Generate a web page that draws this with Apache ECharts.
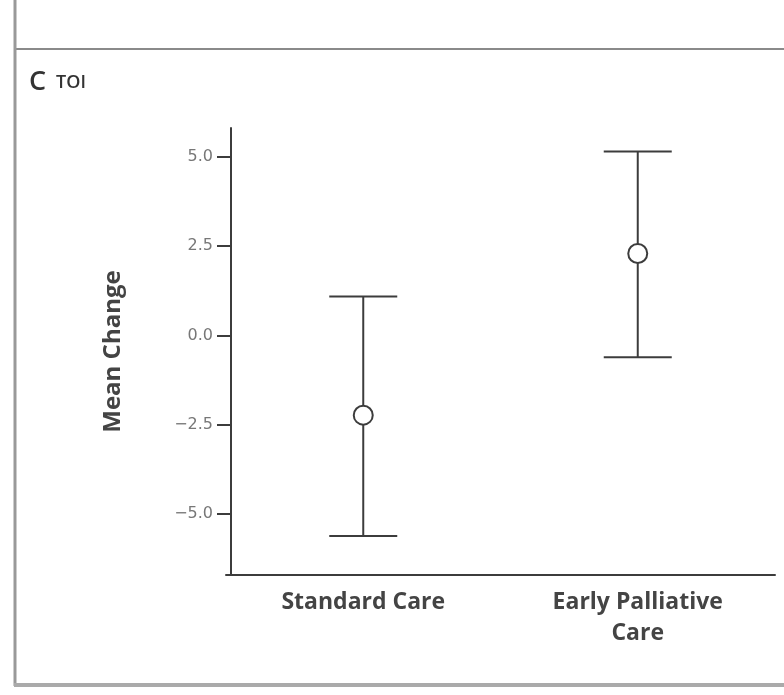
<!DOCTYPE html>
<html>
<head>
<meta charset="utf-8">
<script src="https://cdn.jsdelivr.net/npm/echarts@6/dist/echarts.min.js"></script>
<style>
html,body{margin:0;padding:0;background:#fff;}
#chart{width:784px;height:695px;}
</style>
</head>
<body>
<div id="chart"></div>
<script>
const categories = ['Standard Care', 'Early Palliative\nCare'];
const means = [-2.23, 2.29];
const lower = [-5.61, -0.61];
const upper = [1.09, 5.14];
const yTicks = [-5, -2.5, 0, 2.5, 5];

const chart = echarts.init(document.getElementById('chart'));
const ink = '#3c3c3c';

const errData = categories.map((c, i) => [i, lower[i], upper[i]]);
const meanData = categories.map((c, i) => [i, means[i]]);

chart.setOption({
  animation: false,
  backgroundColor: '#fff',
  grid: { left: 226, right: 9, top: 128, bottom: 120, containLabel: false },
  xAxis: {
    type: 'category',
    data: categories,
    boundaryGap: true,
    axisLine: { onZero: false, lineStyle: { color: ink, width: 2 } },
    axisTick: { show: false },
    axisLabel: {
      color: '#444',
      fontFamily: 'Open Sans',
      fontWeight: 'bold',
      fontSize: 23,
      lineHeight: 31,
      margin: 12,
      interval: 0
    },
    splitLine: { show: false }
  },
  yAxis: {
    type: 'value',
    min: -6.7,
    max: 5.8,
    offset: -5,
    name: 'Mean Change',
    nameLocation: 'middle',
    nameGap: 106,
    nameRotate: 90,
    nameTextStyle: { color: '#444', fontFamily: 'Open Sans', fontWeight: 'bold', fontSize: 24 },
    axisLine: { show: true, lineStyle: { color: ink, width: 2 } },
    axisTick: { show: true, customValues: yTicks, length: 14, lineStyle: { color: ink, width: 2 } },
    axisLabel: {
      customValues: yTicks,
      color: '#777',
      fontFamily: 'DejaVu Sans',
      fontSize: 16,
      margin: 18,
      formatter: v => (v < 0 ? '\u2212' : '') + Math.abs(v).toFixed(1)
    },
    splitLine: { show: false }
  },
  title: {
    text: '{c|C} {t|TOI}',
    left: 24,
    top: 64,
    textStyle: {
      rich: {
        c: { fontFamily: 'Open Sans', fontSize: 27, color: '#333', fontWeight: 600 },
        t: { fontFamily: 'Open Sans', fontSize: 18, color: '#333', fontWeight: 600, padding: [0, 0, 0, 5] }
      }
    }
  },
  graphic: [
    { type: 'line', shape: { x1: 14, y1: 49, x2: 784, y2: 49 }, style: { stroke: '#8a8a8a', lineWidth: 2 } },
    { type: 'line', shape: { x1: 15, y1: 0, x2: 15, y2: 686 }, style: { stroke: '#999', lineWidth: 3 } },
    { type: 'line', shape: { x1: 14, y1: 685, x2: 784, y2: 685 }, style: { stroke: '#aaa', lineWidth: 4 } }
  ],
  series: [
    {
      type: 'custom',
      data: errData,
      renderItem: function (params, api) {
        const x = api.value(0);
        const lo = api.coord([x, api.value(1)]);
        const hi = api.coord([x, api.value(2)]);
        const hw = 34;
        const st = { stroke: ink, lineWidth: 2, fill: null };
        return {
          type: 'group',
          children: [
            { type: 'line', shape: { x1: lo[0], y1: lo[1], x2: hi[0], y2: hi[1] }, style: st },
            { type: 'line', shape: { x1: lo[0] - hw, y1: lo[1], x2: lo[0] + hw, y2: lo[1] }, style: st },
            { type: 'line', shape: { x1: hi[0] - hw, y1: hi[1], x2: hi[0] + hw, y2: hi[1] }, style: st }
          ]
        };
      },
      z: 2
    },
    {
      type: 'scatter',
      data: meanData,
      symbol: 'circle',
      symbolSize: 19,
      itemStyle: { color: '#fff', borderColor: ink, borderWidth: 2, opacity: 1 },
      z: 3
    }
  ]
});
</script>
</body>
</html>
